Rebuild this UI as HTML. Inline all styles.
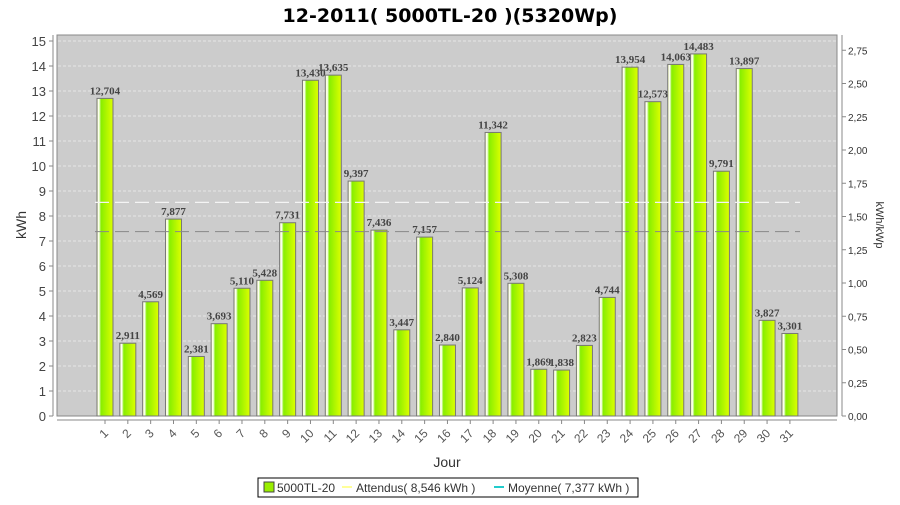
<!DOCTYPE html>
<html><head><meta charset="utf-8"><style>
body{margin:0;background:#fff;width:900px;height:500px;overflow:hidden}
svg{font-family:"Liberation Sans",sans-serif}
</style></head><body>
<svg id="c" width="900" height="500">
<defs>
<linearGradient id="g" x1="0" x2="1" y1="0" y2="0">
<stop offset="0" stop-color="#f4ffb0"/><stop offset="0.12" stop-color="#ffffff"/><stop offset="0.25" stop-color="#88ee00"/><stop offset="1" stop-color="#ddff00"/>
</linearGradient>
</defs>
<text x="450" y="22" text-anchor="middle" font-size="19" font-weight="bold" font-family="DejaVu Sans, sans-serif" fill="#000">12-2011( 5000TL-20 )(5320Wp)</text>
<rect x="57" y="35" width="780" height="381" fill="#cccccc" stroke="#888"/>
<g id="grid"></g><g id="bars"></g><g id="lines"></g><g id="axes"></g>
<text transform="translate(26,225) rotate(-90)" text-anchor="middle" font-size="14" fill="#333">kWh</text>
<text transform="translate(876,225) rotate(90)" text-anchor="middle" font-size="11" fill="#333">kWh/kWp</text>
<text x="447" y="467" text-anchor="middle" font-size="14" fill="#333">Jour</text>
<g>
<rect x="258" y="478" width="380" height="19" fill="#fff" stroke="#000"/>
<rect x="264" y="482" width="10" height="10" fill="#99ee00" stroke="#444"/>
<text x="277" y="492" font-size="12" fill="#333">5000TL-20</text>
<line x1="342" x2="352" y1="487" y2="487" stroke="#ffff99" stroke-width="2"/>
<text x="356" y="492" font-size="12" fill="#333">Attendus( 8,546 kWh )</text>
<line x1="494" x2="504" y1="487" y2="487" stroke="#22cccc" stroke-width="2"/>
<text x="508" y="492" font-size="12" fill="#333">Moyenne( 7,377 kWh )</text>
</g>
</svg>
<script>
const days=[1,2,3,4,5,6,7,8,9,10,11,12,13,14,15,16,17,18,19,20,21,22,23,24,25,26,27,28,29,30,31];
const values=[12.704,2.911,4.569,7.877,2.381,3.693,5.110,5.428,7.731,13.430,13.635,9.397,7.436,3.447,7.157,2.840,5.124,11.342,5.308,1.869,1.838,2.823,4.744,13.954,12.573,14.063,14.483,9.791,13.897,3.827,3.301];
const expected=8.546, average=7.377, peak=5.32;
const yTicks=[0,1,2,3,4,5,6,7,8,9,10,11,12,13,14,15];
const y2Ticks=[0,0.25,0.5,0.75,1,1.25,1.5,1.75,2,2.25,2.5,2.75];
const NS="http://www.w3.org/2000/svg";
const y=v=>416-v*25;
const y2=v=>416-v*peak*25;
const x=i=>105+i*22.83;
function mk(p,t,a){const e=document.createElementNS(NS,t);for(const k in a)e.setAttribute(k,a[k]);document.getElementById(p).appendChild(e);return e;}
yTicks.forEach(v=>{
 if(v>0){const g=mk('grid','line',{x1:58,x2:836,y1:y(v),y2:y(v),stroke:'#eee','stroke-dasharray':'3,2','stroke-width':0.8});
 
 }
 mk('axes','line',{x1:49,x2:53,y1:y(v),y2:y(v),stroke:'#888'});
 const t=mk('axes','text',{x:46,y:y(v)+5,'text-anchor':'end','font-size':13,fill:'#444'});t.textContent=v;
 
 
});
mk('axes','line',{x1:53,x2:53,y1:35,y2:416,stroke:'#888'});
mk('axes','line',{x1:842,x2:842,y1:35,y2:416,stroke:'#888'});
mk('axes','line',{x1:57,x2:837,y1:420,y2:420,stroke:'#888'});
y2Ticks.forEach(v=>{
 mk('axes','line',{x1:842,x2:846,y1:y2(v),y2:y2(v),stroke:'#888'});
 const t=mk('axes','text',{x:848,y:y2(v)+4,'font-size':10,fill:'#333'});t.textContent=v.toFixed(2).replace('.',',');
 
 
});
values.forEach((v,i)=>{
 const b=mk('bars','rect',{x:x(i)-8,y:y(v),width:16,height:416-y(v),fill:'url(#g)',stroke:'#777','stroke-width':1});
 
 
 const l=mk('bars','text',{x:x(i),y:y(v)-4,'text-anchor':'middle','font-size':11,'font-weight':'bold','font-family':'Liberation Serif,serif',fill:'#444'});
 l.textContent=v.toFixed(3).replace('.',',');
 
 
 mk('axes','line',{x1:x(i),x2:x(i),y1:420,y2:424,stroke:'#888'});
 const t=mk('axes','text',{transform:`translate(${x(i)+4},${434}) rotate(-45)`,'text-anchor':'end','font-size':12,fill:'#555'});
 t.textContent=days[i];
 
 
});
const a=mk('lines','line',{x1:95,x2:800,y1:y(expected),y2:y(expected),stroke:'#f4f4f4','stroke-dasharray':'14,6','stroke-width':1.2});


const m=mk('lines','line',{x1:95,x2:800,y1:y(average),y2:y(average),stroke:'#888','stroke-dasharray':'14,6','stroke-width':1});


</script>
</body></html>
